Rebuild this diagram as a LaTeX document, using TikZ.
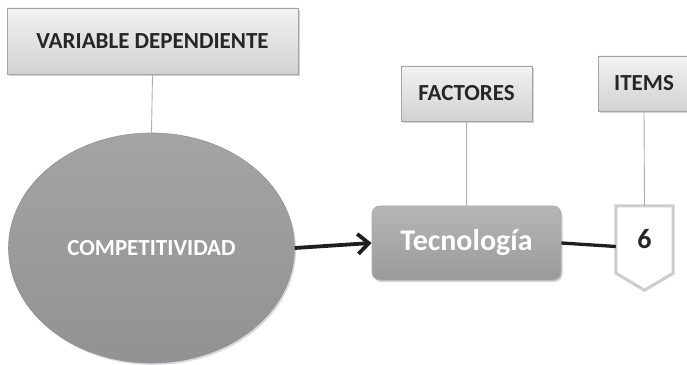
\documentclass[tikz,border=0pt]{standalone}
\usepackage{fontspec}
\setmainfont{Carlito}
\usetikzlibrary{shapes.geometric,shadows,arrows.meta,backgrounds}
\definecolor{cajaarriba}{HTML}{F2F2F2}
\definecolor{cajaabajo}{HTML}{D2D2D2}
\definecolor{borde}{HTML}{A4A4A4}
\definecolor{textoosc}{HTML}{262626}
\definecolor{negro}{HTML}{1E1E1E}
\definecolor{elipsearriba}{HTML}{A4A4A6}
\definecolor{elipseabajo}{HTML}{929294}
\definecolor{tecarriba}{HTML}{B6B6B6}
\definecolor{tecabajo}{HTML}{9A9A9A}
\begin{document}
\begin{tikzpicture}[x=1pt,y=1pt,
  caja/.style={draw=borde, line width=0.8pt, top color=cajaarriba, bottom color=cajaabajo,
    drop shadow={shadow xshift=1.5pt, shadow yshift=-2pt, opacity=0.35},
    text=textoosc, font=\bfseries\fontsize{23}{26}\selectfont, inner sep=0pt},
  enlace/.style={draw=borde!90, line width=0.9pt},
  grueso/.style={draw=negro, line width=3.8pt}]
\useasboundingbox (0,0) rectangle (687,364);
% variable
\node[caja, minimum width=291, minimum height=66] (var) at (152.5,323) {VARIABLE DEPENDIENTE};
\node[ellipse, draw=gray!85, line width=0.6pt, top color=elipsearriba, bottom color=elipseabajo,
      drop shadow={shadow xshift=1.5pt, shadow yshift=-2pt, opacity=0.3},
      minimum width=286, minimum height=230, inner sep=0pt, text=white,
      font=\bfseries\fontsize{23}{26}\selectfont] (cmp) at (151.5,116) {COMPETITIVIDAD};
% factores e items
\node[caja, minimum width=131, minimum height=55] (fac) at (466.5,270.5) {FACTORES};
\node[caja, minimum width=92, minimum height=55] (ite) at (644,280.5) {ITEMS};
\node[draw=gray!65, line width=0.8pt, rounded corners=8pt, top color=tecarriba, bottom color=tecabajo,
      drop shadow={shadow xshift=1.5pt, shadow yshift=-2pt, opacity=0.35},
      minimum width=189, minimum height=74, inner sep=0pt, text=white,
      font=\bfseries\fontsize{30}{34}\selectfont] (tec) at (466.5,121) {Tecnología};
\node[minimum width=57, minimum height=67, inner sep=0pt, text=textoosc,
      font=\bfseries\fontsize{28}{32}\selectfont] (six) at (644.5,124.5) {6};
\begin{scope}[on background layer]
\draw[draw=gray!40, fill=white, line width=3pt] (six.north west) -- (six.north east)
  -- (six.south east) -- ([yshift=-17pt]six.south) -- (six.south west) -- cycle;
\end{scope}
% conectores
\draw[enlace] (var.south) -- (cmp.north);
\draw[enlace] (fac.south) -- (tec.north);
\draw[enlace] (ite.south) -- (six.north);
\draw[grueso, -{Straight Barb[length=11pt, width=20pt]}] (cmp.east) -- (tec.west);
\draw[grueso, line width=3.3pt] (tec.east) -- ([yshift=-7pt]six.west);
\end{tikzpicture}
\end{document}
